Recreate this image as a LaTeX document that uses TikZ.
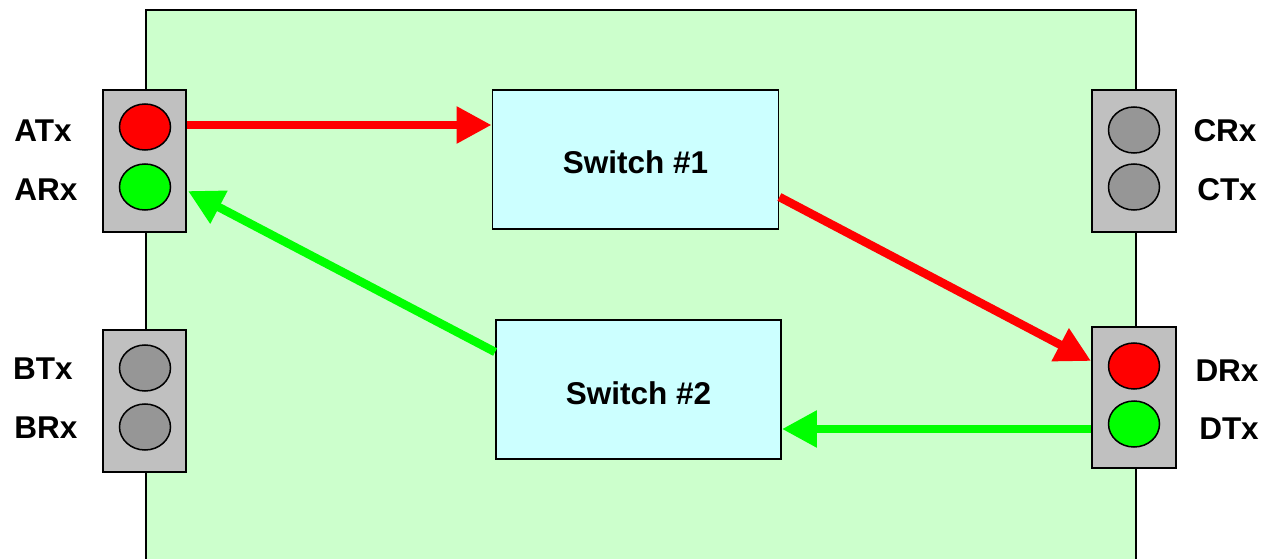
\documentclass[tikz,border=0pt]{standalone}
\usepackage{fontspec}
\setmainfont{Liberation Sans}
\usetikzlibrary{arrows.meta,shapes.geometric}
\definecolor{boardgreen}{HTML}{CCFFCC}
\definecolor{swcyan}{HTML}{CCFFFF}
\definecolor{portgray}{HTML}{C0C0C0}
\definecolor{ledgray}{HTML}{969696}
\definecolor{ledred}{HTML}{FF0000}
\definecolor{ledgreen}{HTML}{00FF00}
\tikzset{
  port/.style={draw=black, line width=1.8pt, fill=portgray, rectangle, inner sep=0pt, minimum width=83pt, minimum height=142pt},
  swbox/.style={draw=black, line width=1.8pt, fill=swcyan, rectangle, inner sep=0pt, minimum width=286pt, minimum height=139pt, text height=29pt, text depth=0pt, font=\bfseries\fontsize{31.5pt}{36pt}\selectfont},
  led/.style={draw=black, line width=1.5pt, ellipse, inner sep=0pt, minimum width=51pt, minimum height=46pt},
  lbl/.style={inner sep=0pt, font=\bfseries\fontsize{31.5pt}{36pt}\selectfont},
  redarrow/.style={draw=ledred, line width=8.5pt, -{Triangle[length=35pt,width=35pt]}},
  greenarrow/.style={draw=ledgreen, line width=8.5pt, -{Triangle[length=35pt,width=35pt]}}
}
\begin{document}
\begin{tikzpicture}[x=1pt,y=-1pt]
\useasboundingbox (0,0) rectangle (1264,559);
\begin{scope}
\clip (0,0) rectangle (1264,559);
\draw[line width=2pt, fill=boardgreen] (146,10) rectangle (1136,620);
\end{scope}
% ports
\node[port] (portA) at (144.5,161) {};
\node[port] (portB) at (144.5,401) {};
\node[port, minimum width=84pt] (portC) at (1134,161) {};
\node[port, minimum width=84pt, minimum height=141pt] (portD) at (1134,397.5) {};
% leds
\node[led, fill=ledred] (atx) at (145,127) {};
\node[led, fill=ledgreen] (arx) at (145,187) {};
\node[led, fill=ledgray] (btx) at (145,368) {};
\node[led, fill=ledgray] (brx) at (145,427) {};
\node[led, fill=ledgray] (crx) at (1134,130) {};
\node[led, fill=ledgray] (ctx) at (1134,187) {};
\node[led, fill=ledred] (drx) at (1134,366) {};
\node[led, fill=ledgreen] (dtx) at (1134,424) {};
% labels
\node[lbl] (latx) at (43,131) {ATx};
\node[lbl] (larx) at (46,190) {ARx};
\node[lbl] (lbtx) at (43,369) {BTx};
\node[lbl] (lbrx) at (46,428) {BRx};
\node[lbl] (lcrx) at (1225,131) {CRx};
\node[lbl] (lctx) at (1227,190) {CTx};
\node[lbl] (ldrx) at (1227,371) {DRx};
\node[lbl] (ldtx) at (1229,429) {DTx};
% switches
\node[swbox] (sw1) at (635.5,159.5) {Switch \#1};
\node[swbox, minimum width=285pt] (sw2) at (638.5,389.5) {Switch \#2};
% connector end points
\coordinate (a1) at (portA.east |- 0,125);
\coordinate (s1in) at (sw1.west |- 0,125);
\coordinate (s1out) at (sw1.east |- 0,197);
\coordinate (din) at (portD.west |- 0,361);
\coordinate (dout) at (portD.west |- 0,429);
\coordinate (s2in) at (sw2.east |- 0,429);
\coordinate (s2out) at (sw2.west |- 0,352);
\coordinate (a2) at (188,191);
% arrows
\draw[redarrow] (a1) -- (s1in);
\draw[redarrow] (s1out) -- (din);
\draw[greenarrow] (dout) -- (s2in);
\draw[greenarrow] (s2out) -- (a2);
\end{tikzpicture}
\end{document}
